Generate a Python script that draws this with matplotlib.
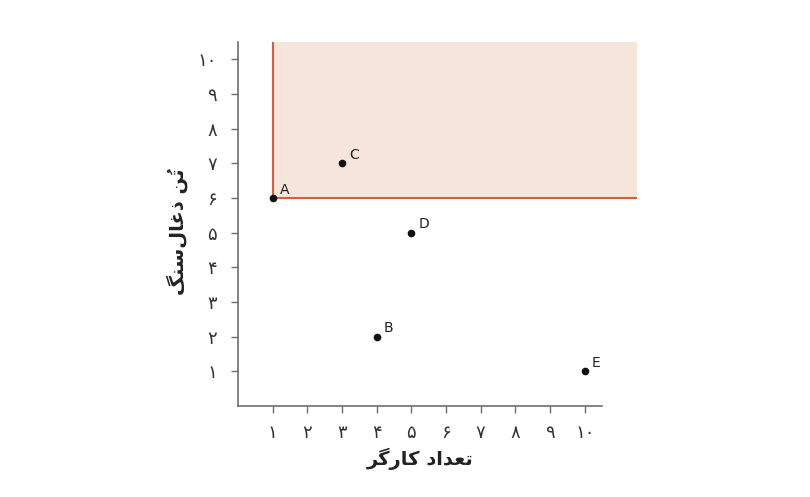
import matplotlib
matplotlib.use("Agg")
import matplotlib.pyplot as plt

# points (workers, tonnes of coal)
names = ["A", "B", "C", "D", "E"]
workers = [1, 4, 3, 5, 10]
coal = [6, 2, 7, 5, 1]

# reference point that bounds the shaded region
ref_x, ref_y = 1, 6

ticks = list(range(1, 11))
persian_digits = "۰۱۲۳۴۵۶۷۸۹"
tick_labels = ["".join(persian_digits[int(c)] for c in str(t)) for t in ticks]

# Persian labels, written as shaped presentation forms in visual order
xlabel_txt = "\uFEAE\uFB94\uFEAD\uFE8E\uFB90 \uFEA9\uFE8D\uFEAA\uFECC\uFE97"
ylabel_txt = "\uFB93\uFEE8\uFEB3\uFEDD\uFE8E\uFECF\uFEAB \uFEE6\u064F\uFE97"

XMAX, YMAX = 11.5, 10.5
red = "#dc5a3e"
fill = "#f5e5db"
spine = "#6e6e6e"

plt.rcParams["font.family"] = ["DejaVu Sans"]

fig = plt.figure(figsize=(8.1, 4.97), dpi=100)
ax = fig.add_axes([0.2938, 0.1831, 0.4923, 0.7324])

ax.fill_between([ref_x, XMAX], ref_y, YMAX, color=fill, lw=0, zorder=1)
ax.plot([ref_x, ref_x], [ref_y, YMAX], color=red, lw=1.5, zorder=2)
ax.plot([ref_x, XMAX], [ref_y, ref_y], color=red, lw=1.5, zorder=2)

ax.plot(workers, coal, "o", color="#111111", ms=4.5, zorder=3, clip_on=False)
for n, x, y in zip(names, workers, coal):
    ax.annotate(n, (x, y), xytext=(5, 6), textcoords="offset points",
                ha="left", va="center", fontsize=10, color="#222222")

ax.set_xlim(0, XMAX)
ax.set_ylim(0, YMAX)
ax.set_xticks(ticks)
ax.set_xticklabels(tick_labels)
ax.set_yticks(ticks)
ax.set_yticklabels(tick_labels)

for s in ("top", "right"):
    ax.spines[s].set_visible(False)
ax.spines["bottom"].set_bounds(0, 10.5)
for s in ("left", "bottom"):
    ax.spines[s].set_color(spine)
    ax.spines[s].set_linewidth(1.2)

ax.tick_params(axis="both", direction="out", length=5, width=1,
               color=spine, labelsize=13, labelcolor="#333333")
ax.tick_params(axis="x", pad=8)
ax.tick_params(axis="y", pad=10)

ax.set_xlabel(xlabel_txt, fontsize=14, fontweight="bold", color="#222222")
ax.xaxis.set_label_coords(5.25 / XMAX, -0.115)
ax.set_ylabel(ylabel_txt, fontsize=14, fontweight="bold", color="#222222")
ax.yaxis.set_label_coords(-0.125, 0.48)

fig.savefig("out.png", dpi=100)
